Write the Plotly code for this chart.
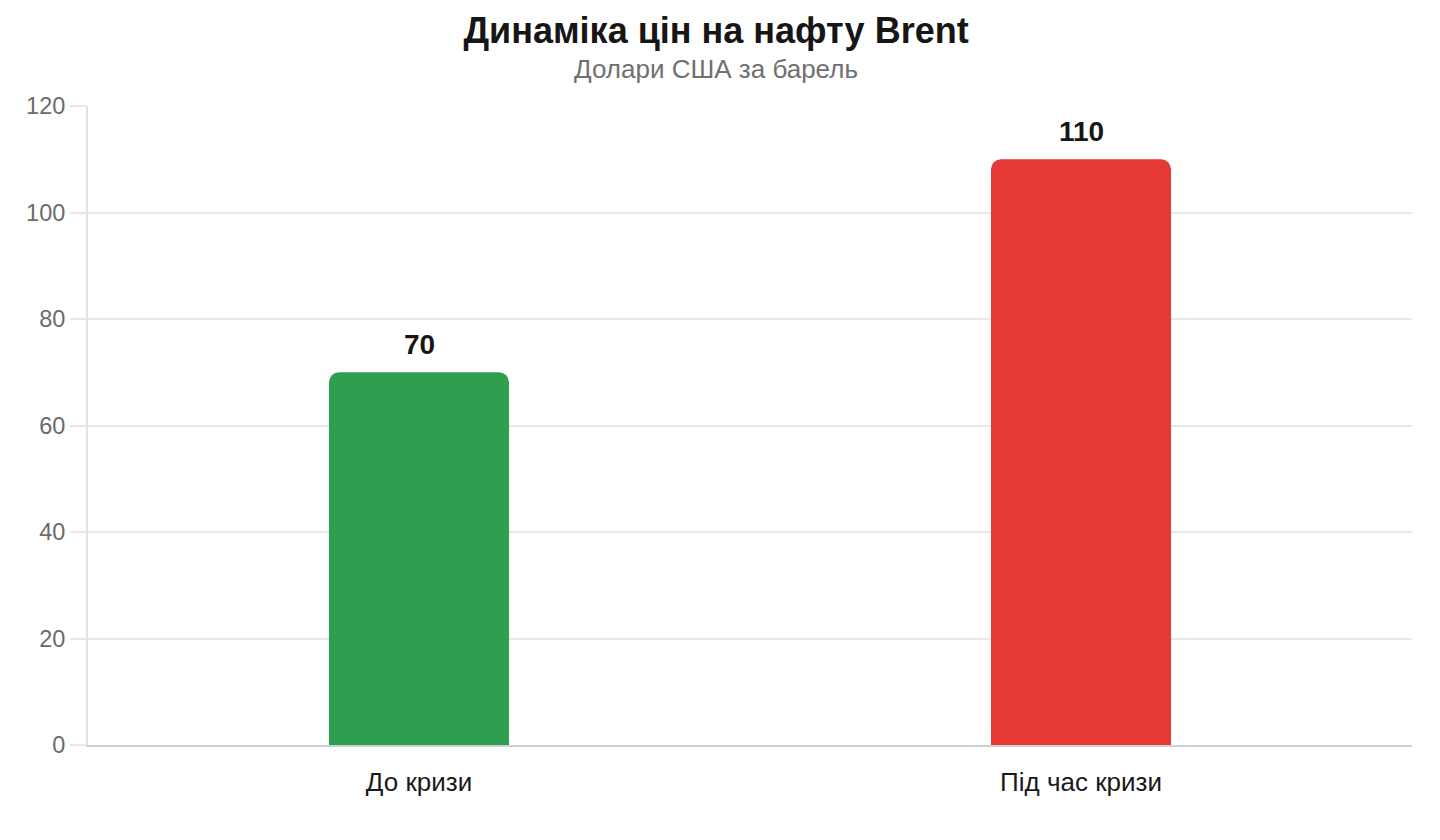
import plotly.graph_objects as go

# data
categories = ["До кризи", "Під час кризи"]
prices = [70, 110]
bar_colors = ["#2E9E4F", "#E53935"]

title_text = "Динаміка цін на нафту Brent"
subtitle_text = "Долари США за барель"

fig = go.Figure()
fig.add_trace(
    go.Bar(
        x=categories,
        y=prices,
        width=0.272,
        marker=dict(color=bar_colors, cornerradius=10, line=dict(width=0)),
        hoverinfo="skip",
    )
)

# value labels above the bars
for cat, val in zip(categories, prices):
    fig.add_annotation(
        x=cat, y=val, text="<b>%d</b>" % val, showarrow=False,
        yanchor="bottom", yshift=10,
        font=dict(size=28, color="#161616", family="Liberation Sans"),
    )

# subtitle (paper x is relative to the plot area)
fig.add_annotation(
    x=0.474, xref="paper", xanchor="center",
    y=1.058, yref="paper", yanchor="middle",
    text=subtitle_text, showarrow=False,
    font=dict(size=26, color="#707070"),
)

fig.update_layout(
    width=1440,
    height=840,
    paper_bgcolor="white",
    plot_bgcolor="white",
    margin=dict(l=80, r=36, t=98, b=103),
    font=dict(family="Liberation Sans, Arial, sans-serif", color="#666666"),
    showlegend=False,
    title=dict(
        text="<b>%s</b>" % title_text,
        x=0.4917, xanchor="center",
        y=0.9738, yanchor="middle", yref="container",
        font=dict(size=36, color="#161616"),
    ),
)

fig.update_yaxes(
    range=[0, 120], dtick=20,
    showgrid=True, gridcolor="#e8e8e8", gridwidth=1.5,
    showline=True, linecolor="#e3e3e3", linewidth=2,
    ticks="outside", ticklen=16, tickcolor="#e8e8e8", tickwidth=1.5,
    tickfont=dict(size=23.5, color="#6b6b6b"),
    zeroline=False,
)
fig.update_xaxes(
    showline=True, linecolor="#d0d0d0", linewidth=2,
    ticks="", ticklabelstandoff=13,
    tickfont=dict(size=26, color="#1a1a1a"),
)

fig.write_html("out.html")
